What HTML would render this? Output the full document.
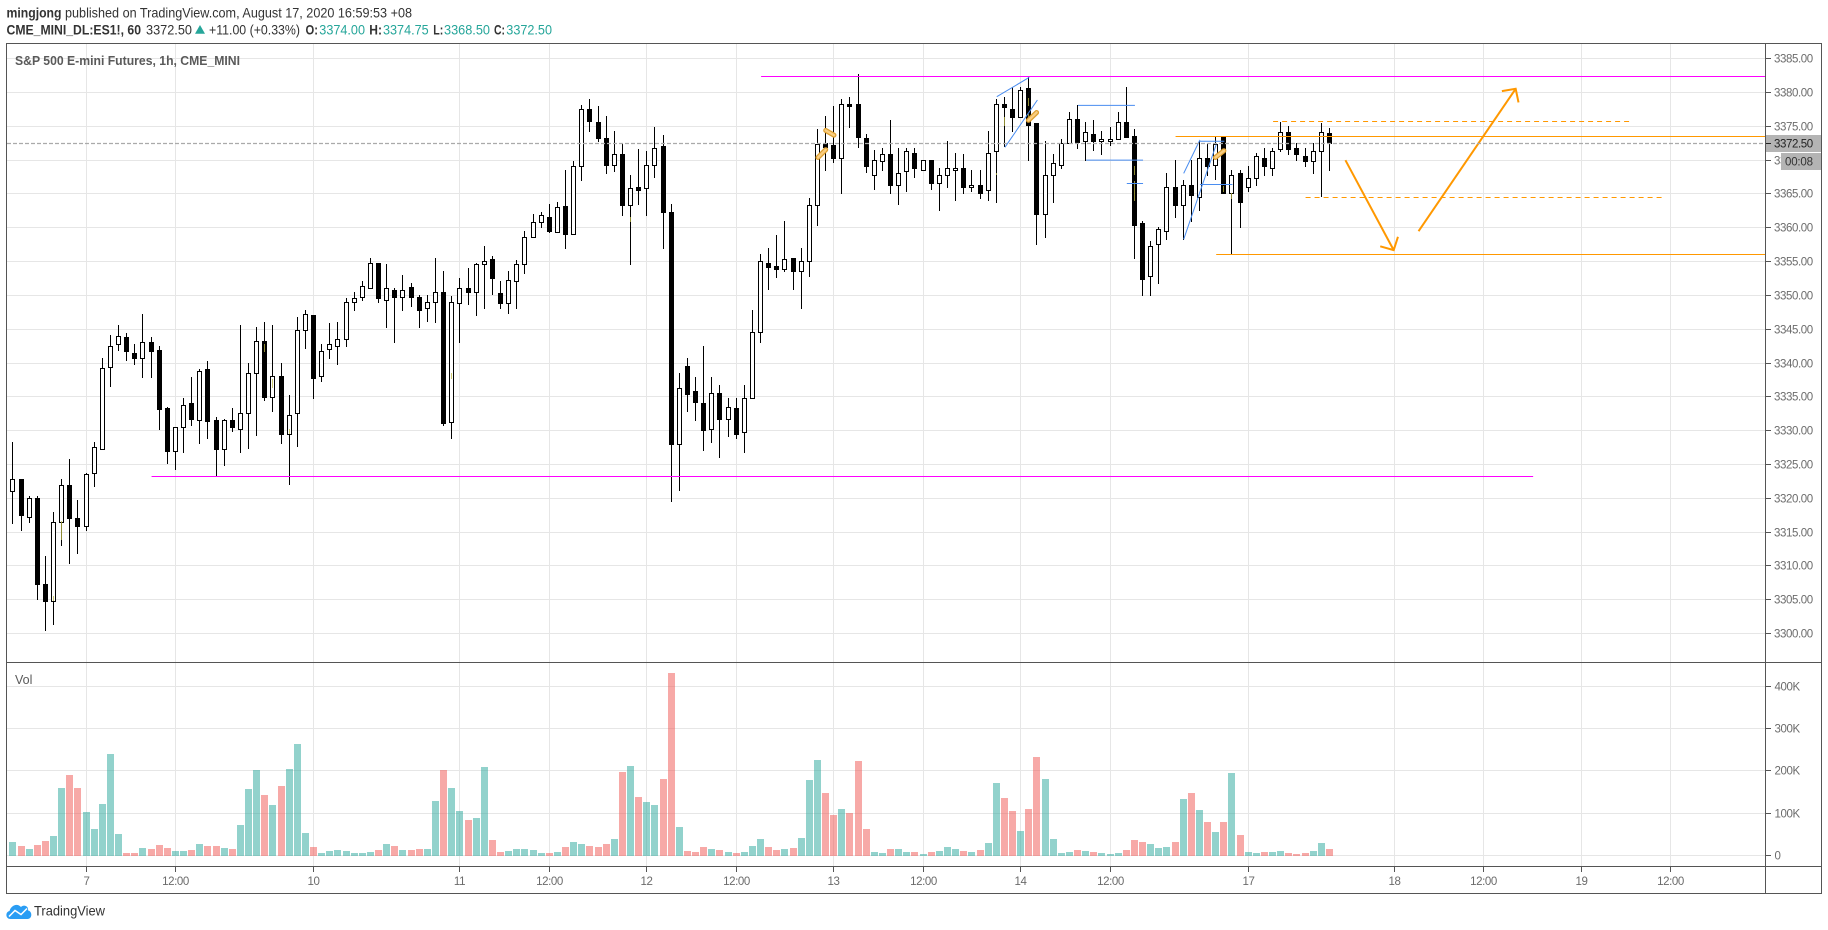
<!DOCTYPE html>
<html lang="en">
<head>
<meta charset="utf-8">
<title>S&amp;P 500 E-mini Futures, 1h, CME_MINI</title>
<style>
html,body{margin:0;padding:0;background:#fff;}
svg{display:block;font-family:"Liberation Sans",sans-serif;}
.axis-text{font-size:11.5px;letter-spacing:-.4px;fill:#6b6b6b;}
</style>
</head>
<body>
<svg id="chart" xmlns="http://www.w3.org/2000/svg" width="1828" height="930" viewBox="0 0 1828 930">
  <rect x="0" y="0" width="1828" height="930" fill="#ffffff"/>
  <g id="header" font-size="14" fill="#333333">
    <text x="6.5" y="17.5" font-weight="bold" textLength="55" lengthAdjust="spacingAndGlyphs">mingjong</text>
    <text x="65" y="17.5" textLength="347" lengthAdjust="spacingAndGlyphs">published on TradingView.com, August 17, 2020 16:59:53 +08</text>
    <text x="6.5" y="34.5" font-weight="bold" textLength="134.5" lengthAdjust="spacingAndGlyphs">CME_MINI_DL:ES1!, 60</text>
    <text x="146" y="34.5" textLength="46" lengthAdjust="spacingAndGlyphs">3372.50</text>
    <polygon points="195,33.7 200,25 205,33.7" fill="#26a69a"/>
    <text x="209" y="34.5" textLength="91" lengthAdjust="spacingAndGlyphs">+11.00 (+0.33%)</text>
    <text x="305.5" y="34.5" font-weight="bold" textLength="12.5" lengthAdjust="spacingAndGlyphs">O:</text>
    <text x="319.3" y="34.5" fill="#26a69a" textLength="45.7" lengthAdjust="spacingAndGlyphs">3374.00</text>
    <text x="369.3" y="34.5" font-weight="bold" textLength="12.7" lengthAdjust="spacingAndGlyphs">H:</text>
    <text x="383" y="34.5" fill="#26a69a" textLength="45.7" lengthAdjust="spacingAndGlyphs">3374.75</text>
    <text x="433.3" y="34.5" font-weight="bold" textLength="10" lengthAdjust="spacingAndGlyphs">L:</text>
    <text x="444" y="34.5" fill="#26a69a" textLength="46" lengthAdjust="spacingAndGlyphs">3368.50</text>
    <text x="494" y="34.5" font-weight="bold" textLength="11" lengthAdjust="spacingAndGlyphs">C:</text>
    <text x="506.3" y="34.5" fill="#26a69a" textLength="45.7" lengthAdjust="spacingAndGlyphs">3372.50</text>
  </g>
  <g id="grid"></g>
  <g id="volume"></g>
  <g id="candles"></g>
  <g id="marks"></g>
  <g id="drawings"></g>
  <line x1="7" y1="143.5" x2="1765" y2="143.5" stroke="#aaaaaa" stroke-width="1.3" stroke-dasharray="4 2"/>
  <g id="frame" fill="#555555" shape-rendering="crispEdges">
    <rect x="6" y="43" width="1816" height="1"/>
    <rect x="6" y="43" width="1" height="851"/>
    <rect x="1821" y="43" width="1" height="851"/>
    <rect x="6" y="893" width="1816" height="1"/>
    <rect x="1765" y="43" width="1" height="851"/>
    <rect x="6" y="662" width="1816" height="1"/>
    <rect x="6" y="866" width="1816" height="1"/>
  </g>
  <g id="axes"></g>
  <g>
    <rect x="1766" y="135" width="55" height="17" fill="#b4b4b4"/>
    <rect x="1766" y="143" width="5" height="1" fill="#222222"/>
    <text x="1774" y="147.6" font-size="11.5" letter-spacing="-.4" fill="#222222">3372.50</text>
    <rect x="1781" y="153" width="40" height="17" fill="#b4b4b4"/>
    <text x="1785" y="165.6" font-size="11.5" letter-spacing="-.2" fill="#333333">00:08</text>
  </g>
  <text x="15" y="65" font-size="13" font-weight="bold" fill="#5a5a5a" textLength="225" lengthAdjust="spacingAndGlyphs">S&amp;P 500 E-mini Futures, 1h, CME_MINI</text>
  <text x="15" y="684" font-size="12.5" fill="#5a5a5a">Vol</text>
  <g>
    <path d="M10.5 919C5.5 919 5 912 9.5 911C11 905.5 17 902.5 21 907C23.5 904 29 906 28 910.5C32.5 911 32.5 919 27.5 919Z" fill="#2a9df4"/>
    <polyline points="9,916.5 15,910.5 21,914.5 27,908.5" fill="none" stroke="#ffffff" stroke-width="1.5"/>
    <text x="34" y="915.7" font-size="14" fill="#333333" textLength="71" lengthAdjust="spacingAndGlyphs">TradingView</text>
  </g>
</svg>
<script>
const opens = [
3321,3322.8,3317.15,3320,3307.2,3304.8,3316.4,3321.9,3317,3315.9,
3323.7,3327.2,3339.4,3342.7,3343.8,3341.4,3340.6,3343,3341.8,3333.3,
3326.9,3330.5,3334,3331.5,3339,3331.5,3327.2,3331.5,3330.1,3332.6,
3338.4,3343.2,3334.9,3338,3329.4,3332.5,3344.8,3347.1,3338,3342,
3342.4,3343.5,3349,3349.7,3351,3354.7,3349.2,3350.8,3349.7,3351.1,
3349.7,3348,3349,3350.4,3331.2,3348.8,3351,3350.4,3354.6,3355.3,
3350.3,3348.8,3352.1,3354.6,3358.6,3360.8,3361.5,3359.3,3363.1,3359,
3369,3377.5,3375.6,3373.2,3369.2,3370.9,3363.3,3366,3365.8,3369.2,
3372,3362.3,3327.9,3339.5,3335.8,3334,3330.1,3335.5,3331.6,3333.3,
3329.7,3334.7,3344.5,3354.7,3354.3,3353.9,3355.5,3353.6,3355,3363.3,
3372.4,3372.1,3370.2,3378.3,3378.2,3373.2,3367.7,3369.8,3370.9,3366.2,
3368.3,3371,3368.5,3370,3366.6,3367.8,3368.5,3368.8,3365.9,3366.3,
3365.5,3371.3,3378.3,3377.5,3376.3,3380.6,3375.4,3361.9,3367.7,3369.2,
3372.5,3376,3372.8,3373.8,3372.8,3372.7,3373,3375.6,3373.5,3360.6,
3352.8,3357.6,3359.4,3366,3363.3,3366.3,3364.5,3370.3,3369.2,3373.4,
3365,3368,3365.9,3367.3,3370.3,3368.8,3371.6,3374.1,3371.8,3370.6,
3369.8,3371.3,3374];
const highs = [
3328.3,3322.8,3320.3,3320.3,3311.4,3317.9,3322.8,3325.8,3319.6,3323.7,
3328.3,3340.7,3344,3345.6,3344.3,3342.8,3347.2,3343.8,3342.5,3333.4,
3330.5,3334.8,3337.8,3339,3340.3,3332,3331.6,3333.3,3345.6,3339.9,
3345.3,3346,3345.6,3339.9,3335.2,3346.8,3347.8,3347.1,3342.8,3345.8,
3346,3349.6,3350.5,3352.1,3355.5,3354.7,3354.6,3351,3352.9,3351.8,
3350,3350,3355.4,3353.6,3349.8,3352.5,3354,3354.7,3357.3,3355.8,
3352.1,3353.6,3355.1,3359.5,3362,3362.3,3363.5,3363.8,3368.4,3369.8,
3378.1,3379,3377.9,3376.5,3374.2,3372.4,3367.8,3371.6,3371.3,3374.9,
3373.6,3363.4,3338.5,3340.7,3337.8,3342.4,3337.8,3336.7,3334.8,3334.8,
3336.7,3347.8,3356.1,3356.9,3358.8,3360.9,3355.5,3356.9,3364.4,3374.6,
3376.4,3377.9,3378.9,3379.3,3382.6,3373.8,3371.4,3371.8,3375.8,3371.7,
3371.7,3371.8,3370,3370,3368.8,3372.8,3371,3370.9,3368.5,3368.5,
3374.3,3378.9,3379.3,3380.8,3380.8,3382.2,3375.4,3372.8,3370.9,3373.1,
3377.1,3378.1,3375.6,3375.8,3374.2,3374.9,3377.1,3380.7,3374.6,3360.9,
3358,3360.1,3368.1,3370,3367,3369.9,3372.8,3372.4,3373.4,3373.5,
3368.4,3368.4,3369.1,3371,3371.7,3371.8,3375.6,3375,3372.4,3371.8,
3372.5,3375.4,3374.75];
const lows = [
3316.2,3315.2,3316.35,3305.1,3300.4,3301.4,3313,3310.4,3311.9,3315.2,
3321.8,3327.2,3336.5,3341.9,3340.4,3339.8,3337.9,3337.9,3330.1,3325.1,
3324.3,3326.7,3330.8,3328.1,3328.9,3323.3,3324.9,3329.9,3326.8,3327.4,
3329.3,3334.4,3332.9,3328.1,3322.1,3327.6,3342.2,3334.8,3337.2,3340.6,
3339.8,3342.4,3347.7,3349.2,3351,3348.9,3345.2,3343.1,3347.7,3348.4,
3345.2,3346.2,3346,3330.8,3328.9,3343,3348.7,3347.1,3348,3350.2,
3348,3347.4,3348,3353.2,3358.6,3360,3359.3,3359.3,3356.9,3359,
3367,3374.2,3372.7,3368,3368.3,3361.8,3354.5,3363.4,3361.8,3367.5,
3356.9,3319.5,3321.1,3332.9,3331.5,3327.1,3328.3,3326.1,3329.2,3328.9,
3326.8,3334.7,3343.1,3350.9,3352.7,3353.6,3350.9,3348.1,3352.8,3360.4,
3368.4,3369.7,3365.1,3374.9,3371.9,3368.2,3365.7,3368.4,3365,3363.4,
3365.4,3367.5,3368.5,3365.7,3362.6,3365.9,3364,3365,3365.4,3364.4,
3364,3363.7,3372,3374.2,3376.3,3369.9,3357.5,3358.6,3363.7,3368.7,
3372.5,3371.7,3370,3371.5,3370.8,3372.2,3373,3373.4,3355.4,3350,
3350,3351.7,3358.2,3361.5,3358.3,3361,3362.6,3367.8,3367.2,3365.1,
3356.1,3360.1,3365.4,3366.2,3367.7,3367.7,3371.3,3370.8,3369.9,3369,
3368,3364.7,3368.5];
const closes = [
3322.8,3317.4,3320,3307.3,3304.8,3316.4,3321.9,3317,3315.9,3323.5,
3327.5,3339.2,3342.4,3343.9,3341.7,3340.6,3343,3341.7,3333.2,3326.9,
3330.5,3333.7,3331.6,3338.7,3331.4,3327.2,3331.5,3330.4,3332.6,3338.5,
3343.2,3334.9,3338,3329.4,3332.2,3344.8,3347.2,3337.7,3341.7,3342.7,
3343.5,3349,3349.6,3351.3,3354.7,3349.6,3351,3349.7,3350.7,3349.7,
3347.7,3349,3350.4,3331.1,3348.9,3351,3350.4,3354.6,3355,3352.5,
3348.8,3352.2,3354.6,3358.6,3360.8,3361.8,3359.4,3363,3359,3369,
3377.5,3375.7,3373.2,3369.2,3370.8,3363.3,3365.8,3365.5,3369.2,3371.7,
3362.2,3327.9,3336.2,3335.4,3334.1,3330,3335.5,3331.6,3333.4,3329.4,
3334.8,3344.5,3355,3354.2,3353.9,3355.3,3353.5,3355,3363.3,3372.3,
3371.9,3370.2,3378.3,3378,3373.4,3369,3370,3370.9,3366.2,3368,
3371.3,3368.7,3370,3366.5,3367.8,3368.8,3368.8,3365.9,3366.3,3365.1,
3371,3378.3,3377.8,3376.3,3380.3,3375.2,3361.9,3367.8,3369.5,3372.5,
3376,3372.6,3374.1,3372.7,3373.1,3373.1,3375.6,3373.4,3360.4,3352.4,
3357.3,3359.8,3366,3363.3,3366.3,3364.8,3370.3,3369.1,3372.3,3365.1,
3367.8,3363.7,3367.3,3370.6,3369,3371.3,3374.1,3371.6,3370.8,3369.8,
3371.3,3374.1,3372.5];
const volumes = [
32,22,15,24,34,46,159,190,159,103,
62,122,240,50,6,6,17,15,24,17,
10,10,13,27,22,22,17,15,72,157,
202,143,119,164,204,263,53,20,6,10,
13,10,6,6,8,13,27,22,13,13,
15,15,129,202,159,105,84,88,209,36,
8,10,15,15,13,6,6,8,20,32,
27,22,20,27,39,197,211,138,126,119,
181,432,67,10,8,20,15,13,8,6,
8,22,39,20,13,15,17,41,178,226,
148,95,110,100,223,62,8,6,15,15,
8,8,3,8,10,20,15,10,8,13,
29,171,136,105,58,110,233,181,39,6,
8,13,10,8,6,3,6,13,36,32,
27,17,20,32,133,148,107,79,55,79,
195,48,8,6,8,8,10,6,3,6,
10,29,15];
const priceTicks = [3385,3380,3375,3370,3365,3360,3355,3350,3345,3340,3335,3330,3325,3320,3315,3310,3305,3300];
const volumeTicks = [400,300,200,100,0];
const timeTickBars = [9,20,37,55,66,78,89,101,112,124,135,152,170,181,193,204];
const timeTickLabels = ["7","12:00","10","11","12:00","12","12:00","13","12:00","14","12:00","17","18","12:00","19","12:00"];
const markBars = [5,6,31,32,34,54,76,121,122,125,125,138,138,149,150];
const markTops = [3305.5,3316.6,3342.7,3337.6,3330.2,3338.5,3361.5,3368.05,3376.3,3379.05,3376.7,3369,3366.9,3366.1,3365.1];
const markBottoms = [3304.8,3313.8,3341.6,3336.3,3329.4,3337.5,3360.8,3367.75,3375.05,3377.9,3375.85,3367.7,3363.85,3365.2,3364.2];
const magentaLevels = [[92,3382.35,216],[17,3323.2,187]];
const orangeLevels = [[143,3373.5,216],[148,3356.07,216]];
const dashedLevels = [[155,3375.74,199],[159,3364.5,203]];
const blueSegments = [
[121,3379.39,125,3382.25],[122,3371.9,126,3378.9],[131,3378.1,138,3378.1],
[132,3370,139,3370],[137,3366.56,139,3366.56],[144,3368.05,146,3373],
[144,3358.3,148,3372.3],[146,3372.8,149,3372.8],[146,3366.4,150,3366.4]];
const arrows = [[163.9,3370,169.84,3356.7],[172.9,3359.5,184.85,3380.56]];
const highlightBlobs = [
[99,3370.4,99.95,3371.55],[99.95,3374.4,100.97,3373.7],
[124.9,3375.9,125.9,3377.05],[147.9,3370.4,148.95,3371.4]];

const NS = 'http://www.w3.org/2000/svg';
function barColumn(i){ return Math.floor(12.9 + 8.127 * i); }
function barX(i){ return 13.4 + 8.127 * i; }
function priceY(p){ return 58.75 + (3385 - p) * 6.762; }
function priceRow(p){ return Math.floor(priceY(p)); }
function volumeY(k){ return 855.4 - k * 0.4225; }
function make(tag, parent){
  const node = document.createElementNS(NS, tag);
  parent.appendChild(node);
  return node;
}
function setRect(node, x, y, w, h, fill){
  node.setAttribute('x', x);
  node.setAttribute('y', y);
  node.setAttribute('width', w);
  node.setAttribute('height', h);
  node.setAttribute('fill', fill);
  node.setAttribute('shape-rendering', 'crispEdges');
}
function setLine(node, x1, y1, x2, y2, stroke, width){
  node.setAttribute('x1', x1);
  node.setAttribute('y1', y1);
  node.setAttribute('x2', x2);
  node.setAttribute('y2', y2);
  node.setAttribute('stroke', stroke);
  node.setAttribute('stroke-width', width);
}
const gridG = document.getElementById('grid');
const volG = document.getElementById('volume');
const candleG = document.getElementById('candles');
const markG = document.getElementById('marks');
const drawG = document.getElementById('drawings');
const axesG = document.getElementById('axes');
const GRID = '#e6e6e6';

priceTicks.forEach(function(p){
  const row = priceRow(p);
  const g = make('rect', gridG);
  
  
  setRect(g, 7, row, 1758, 1, GRID);
  const t = make('rect', axesG);
  
  
  setRect(t, 1766, row, 5, 1, '#555555');
  const l = make('text', axesG);
  
  
  l.setAttribute('class', 'axis-text');
  l.setAttribute('x', 1774);
  l.setAttribute('y', row + 4.6);
  l.textContent = p.toFixed(2);
});
volumeTicks.forEach(function(k){
  const row = Math.floor(volumeY(k));
  const g = make('rect', gridG);
  
  
  setRect(g, 7, row, 1758, 1, GRID);
  const t = make('rect', axesG);
  
  
  setRect(t, 1766, row, 5, 1, '#555555');
  const l = make('text', axesG);
  
  
  l.setAttribute('class', 'axis-text');
  l.setAttribute('x', 1774.5);
  l.setAttribute('y', row + 4.6);
  l.textContent = k === 0 ? '0' : k + 'K';
});
timeTickBars.forEach(function(b, n){
  const col = barColumn(b);
  const g = make('rect', gridG);
  
  
  setRect(g, col, 44, 1, 822, GRID);
  const t = make('rect', axesG);
  
  
  setRect(t, col, 867, 1, 5, '#555555');
  const l = make('text', axesG);
  
  
  l.setAttribute('class', 'axis-text');
  l.setAttribute('x', col + 0.5);
  l.setAttribute('y', 885);
  l.setAttribute('text-anchor', 'middle');
  l.textContent = timeTickLabels[n];
});
volumes.forEach(function(v, i){
  const col = barColumn(i);
  const up = closes[i] >= opens[i];
  const top = Math.round(volumeY(v));
  const bar = make('rect', volG);
  
  
  setRect(bar, col - 3, top, 7, 856 - top, up ? 'rgba(38,166,154,0.5)' : 'rgba(239,83,80,0.5)');
});
opens.forEach(function(o, i){
  const col = barColumn(i);
  const c = closes[i];
  const wickTop = priceRow(highs[i]);
  const wickBottom = priceRow(lows[i]);
  const wick = make('rect', candleG);
  
  
  setRect(wick, col, wickTop, 1, wickBottom - wickTop + 1, '#000000');
  const bodyTop = priceRow(Math.max(o, c));
  const bodyBottom = priceRow(Math.min(o, c));
  const body = make('rect', candleG);
  
  
  if (c >= o) {
    setRect(body, col - 1.5, bodyTop + 0.5, 4, Math.max(bodyBottom - bodyTop, 1), '#ffffff');
    body.setAttribute('stroke', '#000000');
    body.setAttribute('stroke-width', '1');
  } else {
    setRect(body, col - 2, bodyTop, 5, bodyBottom - bodyTop + 1, '#000000');
  }
});
markBars.forEach(function(b, n){
  const top = priceRow(markTops[n]);
  const bottom = priceRow(markBottoms[n]);
  const m = make('rect', markG);
  
  
  setRect(m, barColumn(b), top, 1, Math.max(bottom - top, 2), 'rgba(190,185,70,0.75)');
});
highlightBlobs.forEach(function(s){
  const outer = make('line', markG);
  
  
  setLine(outer, barX(s[0]), priceY(s[1]), barX(s[2]), priceY(s[3]), '#dd9f30', 5);
  outer.setAttribute('stroke-linecap', 'round');
  const inner = make('line', markG);
  
  
  setLine(inner, barX(s[0]), priceY(s[1]), barX(s[2]), priceY(s[3]), '#f9cd80', 2.5);
  inner.setAttribute('stroke-linecap', 'round');
});
function levelEnd(b){ return Math.min(barX(b), 1765); }
magentaLevels.forEach(function(s){
  const y = priceRow(s[1]) + 0.5;
  const line = make('line', drawG);
  
  
  setLine(line, barX(s[0]), y, levelEnd(s[2]), y, '#ff00ff', 1);
});
orangeLevels.forEach(function(s){
  const y = priceRow(s[1]) + 0.5;
  const line = make('line', drawG);
  
  
  setLine(line, barX(s[0]), y, levelEnd(s[2]), y, '#ff9800', 1);
});
dashedLevels.forEach(function(s){
  const y = priceRow(s[1]) + 0.5;
  const line = make('line', drawG);
  
  
  setLine(line, barX(s[0]), y, levelEnd(s[2]), y, '#ff9800', 1);
  line.setAttribute('stroke-dasharray', '5 4');
});
blueSegments.forEach(function(s){
  const line = make('line', drawG);
  
  
  setLine(line, barX(s[0]), priceY(s[1]), barX(s[2]), priceY(s[3]), '#4a8df0', 1);
});
arrows.forEach(function(s){
  const x1 = barX(s[0]), y1 = priceY(s[1]), x2 = barX(s[2]), y2 = priceY(s[3]);
  const back = Math.atan2(y1 - y2, x1 - x2);
  const spread = 46 * Math.PI / 180;
  const headA = [x2 + 14 * Math.cos(back - spread), y2 + 14 * Math.sin(back - spread)];
  const headB = [x2 + 14 * Math.cos(back + spread), y2 + 14 * Math.sin(back + spread)];
  const shaft = make('line', drawG);
  
  
  setLine(shaft, x1, y1, x2, y2, '#ff9800', 2);
  const head = make('polyline', drawG);
  
  
  head.setAttribute('points', headA.join(',') + ' ' + x2 + ',' + y2 + ' ' + headB.join(','));
  head.setAttribute('fill', 'none');
  head.setAttribute('stroke', '#ff9800');
  head.setAttribute('stroke-width', '2');
});
</script>
</body>
</html>
